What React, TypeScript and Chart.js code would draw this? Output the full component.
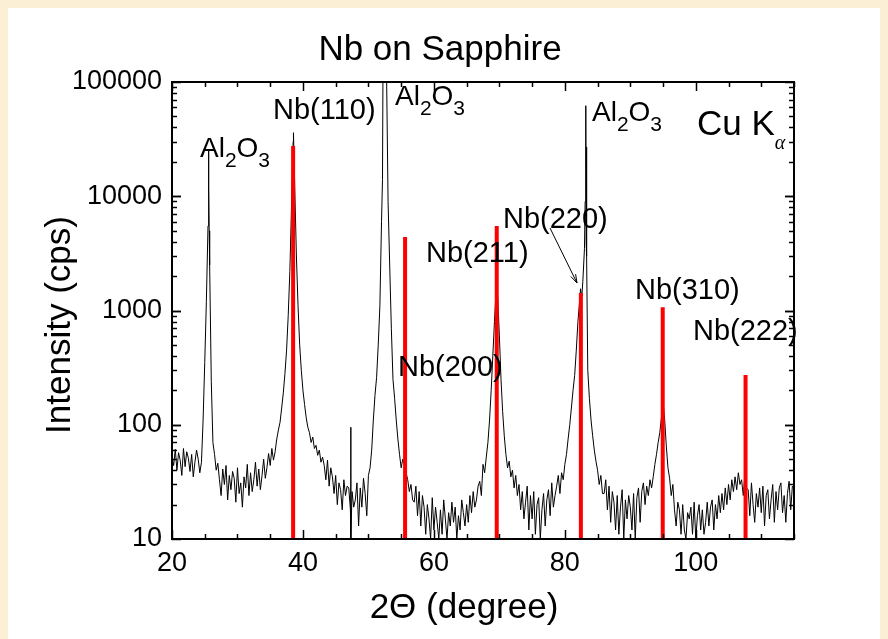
import React, { useEffect, useRef } from "react";
import { Chart, registerables } from "chart.js";

Chart.register(...registerables);

// ---- data ----
const scanStart = 20;
const scanStep = 0.25;
// one row per degree: x.00, x.25, x.50, x.75
const scanCounts = [
  52, 44, 61, 40, // 20
  57, 49, 36, 62, // 21
  43, 58, 51, 39, // 22
  55, 35, 47, 60, // 23
  50, 38, 47, 110, // 24
  350, 1200, 5500, 2500, // 25
  240, 70, 55, 40, // 26
  46, 33, 24, 41, // 27
  30, 44, 22, 36, // 28
  27, 39, 34, 21, // 29
  42, 25, 31, 19, // 30
  35, 28, 45, 24, // 31
  38, 26, 33, 47, // 32
  29, 41, 27, 36, // 33
  50, 34, 42, 56, // 34
  44, 62, 49, 58, // 35
  75, 90, 105, 140, // 36
  190, 280, 450, 900, // 37
  2200, 8000, 30000, 12000, // 38
  3000, 1100, 500, 300, // 39
  200, 150, 115, 95, // 40
  85, 70, 78, 62, // 41
  66, 54, 60, 47, // 42
  52, 44, 33, 49, // 43
  29, 42, 35, 25, // 44
  36, 20, 31, 27, // 45
  18, 33, 24, 29, // 46
  28, 18, 26, 19, // 47
  22, 31, 13, 28, // 48
  19, 34, 25, 16, // 49
  36, 42, 60, 110, // 50
  180, 260, 500, 1100, // 51
  6000, 300000, 400000, 150000, // 52
  9000, 2500, 700, 250, // 53
  170, 110, 75, 55, // 54
  42, 50, 45, 38, // 55
  33, 26, 30, 22, // 56
  21, 29, 16, 26, // 57
  13, 24, 19, 11, // 58
  20, 15, 10, 23, // 59
  12, 19, 14, 10, // 60
  18, 11, 22, 15, // 61
  10, 17, 13, 21, // 62
  14, 19, 10, 16, // 63
  12, 22, 17, 13, // 64
  20, 14, 24, 17, // 65
  26, 19, 22, 29, // 66
  32, 24, 45, 38, // 67
  52, 70, 110, 200, // 68
  400, 800, 1500, 1300, // 69
  600, 250, 130, 80, // 70
  55, 42, 48, 35, // 71
  40, 28, 36, 24, // 72
  30, 18, 26, 15, // 73
  21, 29, 12, 24, // 74
  15, 26, 11, 20, // 75
  23, 10, 18, 25, // 76
  13, 22, 27, 16, // 77
  31, 19, 24, 29, // 78
  36, 25, 38, 33, // 79
  45, 55, 75, 100, // 80
  140, 200, 270, 450, // 81
  800, 1200, 1400, 1800, // 82
  3500, 4000, 300, 170, // 83
  110, 80, 60, 48, // 84
  40, 30, 36, 25, // 85
  25, 33, 18, 29, // 86
  14, 26, 21, 12, // 87
  24, 11, 19, 27, // 88
  10, 22, 15, 24, // 89
  19, 12, 25, 10, // 90
  23, 28, 14, 26, // 91
  31, 20, 29, 24, // 92
  33, 28, 35, 45, // 93
  55, 70, 85, 115, // 94
  158, 110, 65, 42, // 95
  34, 24, 30, 18, // 96
  13, 21, 18, 11, // 97
  20, 12, 10, 17, // 98
  15, 19, 11, 21, // 99
  10, 16, 20, 12, // 100
  18, 11, 14, 21, // 101
  13, 19, 22, 12, // 102
  20, 15, 24, 17, // 103
  25, 18, 28, 20, // 104
  30, 22, 33, 26, // 105
  35, 27, 38, 30, // 106
  33, 24, 36, 28, // 107
  27, 16, 31, 20, // 108
  14, 25, 19, 28, // 109
  17, 29, 13, 24, // 110
  27, 15, 22, 30, // 111
  14, 26, 18, 28, // 112
  31, 17, 24, 14, // 113
  25, 32, 18, 29, // 114
  28, // 115
];

// sharp substrate / spike features sampled between the grid points
const sharpAngles = [25.56, 25.6, 25.64, 25.68, 38.55, 47.3, 47.33, 52.15, 82.4, 82.6, 83.1, 83.2, 83.3, 83.35];
const sharpCounts = [25000, 6000, 12000, 5000, 36000, 95, 10, 14000, 1550, 1350, 9000, 62000, 27000, 3000];

// Nb reference reflections (red bars)
const nbAngles = [38.5, 55.6, 69.6, 82.45, 94.95, 107.6];
const nbIntensity = [27500, 4400, 5500, 1420, 1070, 272];

const xTickValues = [20, 40, 60, 80, 100];
const yTickValues = [10, 100, 1000, 10000, 100000];

const FONT = "'Liberation Sans', Arial, sans-serif";

function buildScan() {
  const pts = scanCounts.map((c, i) => ({ x: scanStart + i * scanStep, y: c }));
  sharpAngles.forEach((a, i) => pts.push({ x: a, y: sharpCounts[i] }));
  pts.sort((p, q) => p.x - q.x);
  return pts;
}

function drawRich(ctx: CanvasRenderingContext2D, x: number, base: number, parts: [string, string, number][]) {
  let cx = x;
  for (const [t, font, dy] of parts) {
    ctx.font = font;
    ctx.fillText(t, cx, base + dy);
    cx += ctx.measureText(t).width;
  }
}

const framePlugin = {
  id: "frameTicks",
  afterDatasetsDraw(chart: any) {
    const { ctx, chartArea: a, scales } = chart;
    const xs = scales.x;
    const ys = scales.y;
    ctx.save();
    ctx.strokeStyle = "#000";
    ctx.lineWidth = 1.5;
    const seg = (x1: number, y1: number, x2: number, y2: number) => {
      ctx.beginPath();
      ctx.moveTo(x1, y1);
      ctx.lineTo(x2, y2);
      ctx.stroke();
    };
    for (let v = xs.min; v <= xs.max + 1e-6; v += 5) {
      const px = Math.round(xs.getPixelForValue(v)) + 0.5;
      const len = v % 20 === 0 ? 9 : 5;
      seg(px, a.bottom, px, a.bottom - len);
      seg(px, a.top, px, a.top + len);
    }
    for (let d = 10; d < 100000; d *= 10) {
      for (let m = 1; m <= 10; m++) {
        const v = d * m;
        const py = Math.round(ys.getPixelForValue(v)) + 0.5;
        const len = m === 1 || m === 10 ? 9 : 5;
        seg(a.left, py, a.left + len, py);
        seg(a.right, py, a.right - len, py);
      }
    }
    ctx.lineWidth = 2;
    ctx.strokeRect(a.left, a.top, a.right - a.left, a.bottom - a.top);
    ctx.restore();
  },
};

const textPlugin = {
  id: "texts",
  afterDraw(chart: any) {
    const ctx: CanvasRenderingContext2D = chart.ctx;
    ctx.save();
    ctx.fillStyle = "#000";
    ctx.textBaseline = "alphabetic";
    ctx.textAlign = "left";
    const big = `35px ${FONT}`;
    const lab = `29px ${FONT}`;
    const main = `28px ${FONT}`;
    const sub = `21px ${FONT}`;

    // title
    ctx.textAlign = "center";
    ctx.font = big;
    ctx.fillText("Nb on Sapphire", 432, 52);
    // x title
    ctx.fillText("2\u0398 (degree)", 456, 610);
    // y title
    ctx.save();
    ctx.translate(62, 317);
    ctx.rotate(-Math.PI / 2);
    ctx.fillText("Intensity (cps)", 0, 0);
    ctx.restore();

    ctx.textAlign = "left";
    const al2o3 = (x: number, b: number) =>
      drawRich(ctx, x, b, [["Al", main, 0], ["2", sub, 10], ["O", main, 0], ["3", sub, 10]]);
    al2o3(192, 149);
    al2o3(387, 97);
    al2o3(584, 113);

    ctx.font = lab;
    ctx.fillText("Nb(110)", 265, 111);
    ctx.fillText("Nb(220)", 495, 220);
    ctx.fillText("Nb(211)", 418, 254);
    ctx.fillText("Nb(200)", 390, 368);
    ctx.fillText("Nb(310)", 627, 291);
    ctx.fillText("Nb(222)", 685, 332);

    drawRich(ctx, 689, 127, [["Cu K", big, 0], ["\u03B1", `italic 20px 'Liberation Serif', serif`, 14]]);

    // arrow to Nb(220)
    const x1 = 542, y1 = 220, x2 = 569, y2 = 275;
    ctx.strokeStyle = "#000";
    ctx.lineWidth = 1;
    ctx.beginPath();
    ctx.moveTo(x1, y1);
    ctx.lineTo(x2, y2);
    ctx.stroke();
    const ang = Math.atan2(y2 - y1, x2 - x1);
    ctx.beginPath();
    ctx.moveTo(x2, y2);
    ctx.lineTo(x2 - 9 * Math.cos(ang - 0.3), y2 - 9 * Math.sin(ang - 0.3));
    ctx.moveTo(x2, y2);
    ctx.lineTo(x2 - 9 * Math.cos(ang + 0.3), y2 - 9 * Math.sin(ang + 0.3));
    ctx.stroke();
    ctx.restore();
  },
};

export default function App() {
  const ref = useRef<HTMLCanvasElement>(null);
  useEffect(() => {
    document.body.style.background = "#FBEFD6";
    const scan = buildScan();
    const barSets = nbAngles.map((a, i) => ({
      label: `Nb ${a}`,
      data: [
        { x: a, y: 10 },
        { x: a, y: nbIntensity[i] },
      ],
      showLine: true,
      borderColor: "#ff0000",
      borderWidth: 4,
      borderCapStyle: "butt" as const,
      pointRadius: 0,
    }));
    const chart = new Chart(ref.current!, {
      type: "scatter",
      data: {
        datasets: [
          ...barSets,
          {
            label: "scan",
            data: scan,
            showLine: true,
            borderColor: "#000",
            borderWidth: 1,
            pointRadius: 0,
            tension: 0,
          },
        ],
      },
      options: {
        animation: false,
        responsive: false,
        devicePixelRatio: 1,
        events: [],
        layout: { padding: { left: 0, right: 94, top: 74, bottom: 0 } },
        plugins: { legend: { display: false }, tooltip: { enabled: false }, title: { display: false } },
        scales: {
          x: {
            type: "linear",
            min: 20,
            max: 115,
            grid: { display: false, drawTicks: false },
            border: { display: false },
            afterBuildTicks: (s: any) => {
              s.ticks = xTickValues.map((v) => ({ value: v }));
            },
            afterFit: (s: any) => {
              s.height = 100;
            },
            ticks: {
              autoSkip: false,
              maxRotation: 0,
              padding: 8,
              color: "#000",
              font: { family: FONT, size: 27, lineHeight: 1.2 },
              callback: (v: any) => String(v),
            },
          },
          y: {
            type: "logarithmic",
            min: 10,
            max: 100000,
            grid: { display: false, drawTicks: false },
            border: { display: false },
            afterBuildTicks: (s: any) => {
              s.ticks = yTickValues.map((v) => ({ value: v }));
            },
            afterFit: (s: any) => {
              s.width = 164;
            },
            ticks: {
              autoSkip: false,
              padding: 10,
              color: "#000",
              font: { family: FONT, size: 27 },
              callback: (v: any) => String(v),
            },
          },
        },
      },
      plugins: [framePlugin, textPlugin],
    } as any);
    return () => chart.destroy();
  }, []);
  return (
    <div style={{ width: 880, height: 631, background: "#ffffff" }}>
      <canvas ref={ref} width={880} height={631} style={{ display: "block" }} />
    </div>
  );
}
